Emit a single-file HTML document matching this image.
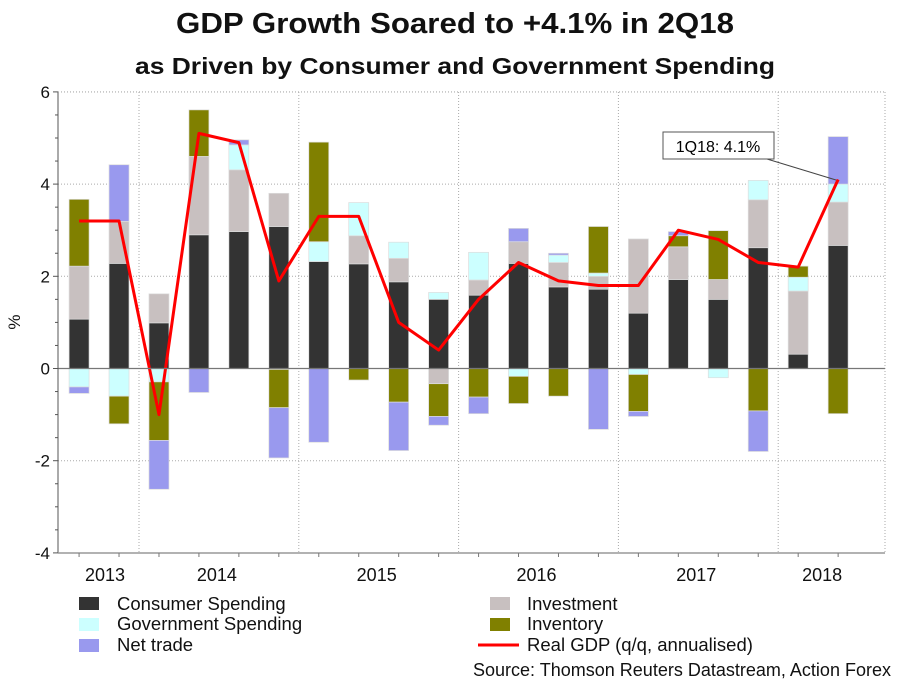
<!DOCTYPE html>
<html><head><meta charset="utf-8"><style>
body{margin:0;background:#fff;width:909px;height:682px;overflow:hidden;font-family:"Liberation Sans",Arial,sans-serif}
svg text{font-family:"Liberation Sans",Arial,sans-serif}
</style></head><body>
<svg id="chart" width="909" height="682" xmlns="http://www.w3.org/2000/svg">
<text x="455" y="33" text-anchor="middle" font-size="29" font-weight="bold" fill="#111" textLength="558" lengthAdjust="spacingAndGlyphs">GDP Growth Soared to +4.1% in 2Q18</text>
<text x="455" y="74" text-anchor="middle" font-size="23" font-weight="bold" fill="#111" textLength="640" lengthAdjust="spacingAndGlyphs">as Driven by Consumer and Government Spending</text>
<g id="grid"></g><g id="bars"></g><g id="line"></g><g id="axes"></g>
<g>
<line x1="767" y1="159" x2="836" y2="180" stroke="#444" stroke-width="1"/>
<rect x="663" y="132" width="111" height="27" fill="#fff" stroke="#555"/>
<text x="718" y="152" text-anchor="middle" font-size="16" fill="#000">1Q18: 4.1%</text>
</g>
<g font-size="18.5" fill="#111">
<g><rect x="79" y="597" width="20" height="13" fill="#333"/><text x="117" y="610">Consumer Spending</text></g>
<g><rect x="79" y="618" width="20" height="13" fill="#ccffff"/><text x="117" y="630">Government Spending</text></g>
<g><rect x="79" y="639" width="20" height="13" fill="#9999ee"/><text x="117" y="651">Net trade</text></g>
<g><rect x="490" y="597" width="20" height="13" fill="#c8c0c0"/><text x="527" y="610">Investment</text></g>
<g><rect x="490" y="618" width="20" height="13" fill="#808000"/><text x="527" y="630">Inventory</text></g>
<g><line x1="478" y1="645" x2="519" y2="645" stroke="#f00" stroke-width="3"/><text x="527" y="651">Real GDP (q/q, annualised)</text></g>
</g>
<text x="891" y="676" text-anchor="end" font-size="18" fill="#111" textLength="418" lengthAdjust="spacingAndGlyphs">Source: Thomson Reuters Datastream, Action Forex</text>
</svg>
<script>
const quarters=["3Q13","4Q13","1Q14","2Q14","3Q14","4Q14","1Q15","2Q15","3Q15","4Q15","1Q16","2Q16","3Q16","4Q16","1Q17","2Q17","3Q17","4Q17","1Q18","2Q18"];
const consumer=[1.07,2.28,0.99,2.9,2.97,3.08,2.32,2.27,1.88,1.5,1.59,2.28,1.77,1.72,1.2,1.93,1.5,2.62,0.31,2.67];
const investment=[1.15,0.91,0.63,1.7,1.34,0.72,0,0.61,0.51,-0.33,0.33,0.47,0.53,0.28,1.61,0.71,0.43,1.04,1.37,0.94];
const government=[-0.4,-0.6,-0.29,0,0.54,-0.02,0.43,0.72,0.35,0.15,0.6,-0.17,0.16,0.07,-0.13,0,-0.2,0.42,0.3,0.39];
const inventory=[1.45,-0.6,-1.27,1.01,0,-0.83,2.16,-0.25,-0.73,-0.71,-0.62,-0.59,-0.6,1.01,-0.8,0.24,1.06,-0.92,0.24,-0.98];
const netTrade=[-0.14,1.23,-1.06,-0.52,0.11,-1.09,-1.6,0,-1.05,-0.19,-0.36,0.29,0.04,-1.32,-0.11,0.09,0,-0.88,0,1.03];
const realGdp=[3.2,3.2,-1.0,5.1,4.9,1.9,3.3,3.3,1.0,0.4,1.5,2.3,1.9,1.8,1.8,3.0,2.8,2.3,2.2,4.1];
const yTicks=[6,4,2,0,-2,-4];
const years=["2013","2014","2015","2016","2017","2018"];
const yearPos=[0.65,3.45,7.45,11.45,15.45,18.6];
const yearBoundaries=[1.5,5.5,9.5,13.5,17.5];

const NS="http://www.w3.org/2000/svg";
const L=58,R=885,T=92,B=553;
const y=v=>368.5-v*46.1;
const x=i=>139+(i-1.5)*39.95;
function mk(tag,attrs,parent){const e=document.createElementNS(NS,tag);for(const k in attrs)e.setAttribute(k,attrs[k]);parent.appendChild(e);return e;}
const grid=document.getElementById('grid'),bars=document.getElementById('bars'),lineG=document.getElementById('line'),axes=document.getElementById('axes');
yTicks.forEach(t=>{if(t!==0&&t!==-4){const g=mk('line',{x1:L,x2:R,y1:y(t),y2:y(t),stroke:'#aaa','stroke-dasharray':'1,2'},grid);

}});
yearBoundaries.forEach(b=>{const g=mk('line',{x1:x(b),x2:x(b),y1:T,y2:B,stroke:'#aaa','stroke-dasharray':'1,2'},grid);

});
mk('line',{x1:R,x2:R,y1:T,y2:B,stroke:'#aaa','stroke-dasharray':'1,2'},grid);
const series=[["consumer",consumer,"#333"],["investment",investment,"#c8c0c0"],["government",government,"#ccffff"],["inventory",inventory,"#808000"],["net-trade",netTrade,"#9999ee"]];
quarters.forEach((q,i)=>{let pos=0,neg=0;
series.forEach(([nm,arr,col])=>{const v=arr[i];if(v===0)return;let a,b;
if(v>0){a=pos;b=pos+v;pos=b;}else{a=neg;b=neg+v;neg=b;}
const r=mk('rect',{x:x(i)-10,width:20,y:Math.min(y(a),y(b)),height:Math.abs(y(a)-y(b)),fill:col,stroke:'#ddd','stroke-width':0.7},bars);

});});
mk('line',{x1:L,x2:R,y1:y(0),y2:y(0),stroke:'#777','stroke-width':1.2},axes);
const pl=mk('polyline',{points:realGdp.map((v,i)=>x(i)+','+y(v)).join(' '),fill:'none',stroke:'#f00','stroke-width':3,'stroke-linejoin':'round'},lineG);


mk('line',{x1:L,x2:L,y1:T,y2:B,stroke:'#555'},axes);
mk('line',{x1:L,x2:R,y1:B,y2:B,stroke:'#999','stroke-width':1.5},axes);
mk('line',{x1:L,x2:R,y1:T,y2:T,stroke:'#aaa','stroke-dasharray':'1,2'},axes);
for(let v=-4;v<=6;v+=0.5){mk('line',{x1:L-(v%2===0?5:3),x2:L,y1:y(v),y2:y(v),stroke:'#555'},axes);}
yTicks.forEach(t=>{const e=mk('text',{x:L-8,y:y(t)+6,'text-anchor':'end','font-size':17,fill:'#111'},axes);e.textContent=t;

});
quarters.forEach((q,i)=>{mk('line',{x1:x(i),x2:x(i),y1:B,y2:B+4,stroke:'#777'},axes);});
years.forEach((yr,k)=>{const e=mk('text',{x:x(yearPos[k]),y:581,'text-anchor':'middle','font-size':18,fill:'#111'},axes);e.textContent=yr;

});
const yt=mk('text',{x:20,y:322,'text-anchor':'middle','font-size':17,fill:'#111',transform:'rotate(-90 20 322)'},axes);yt.textContent='%';


</script>
</body></html>
